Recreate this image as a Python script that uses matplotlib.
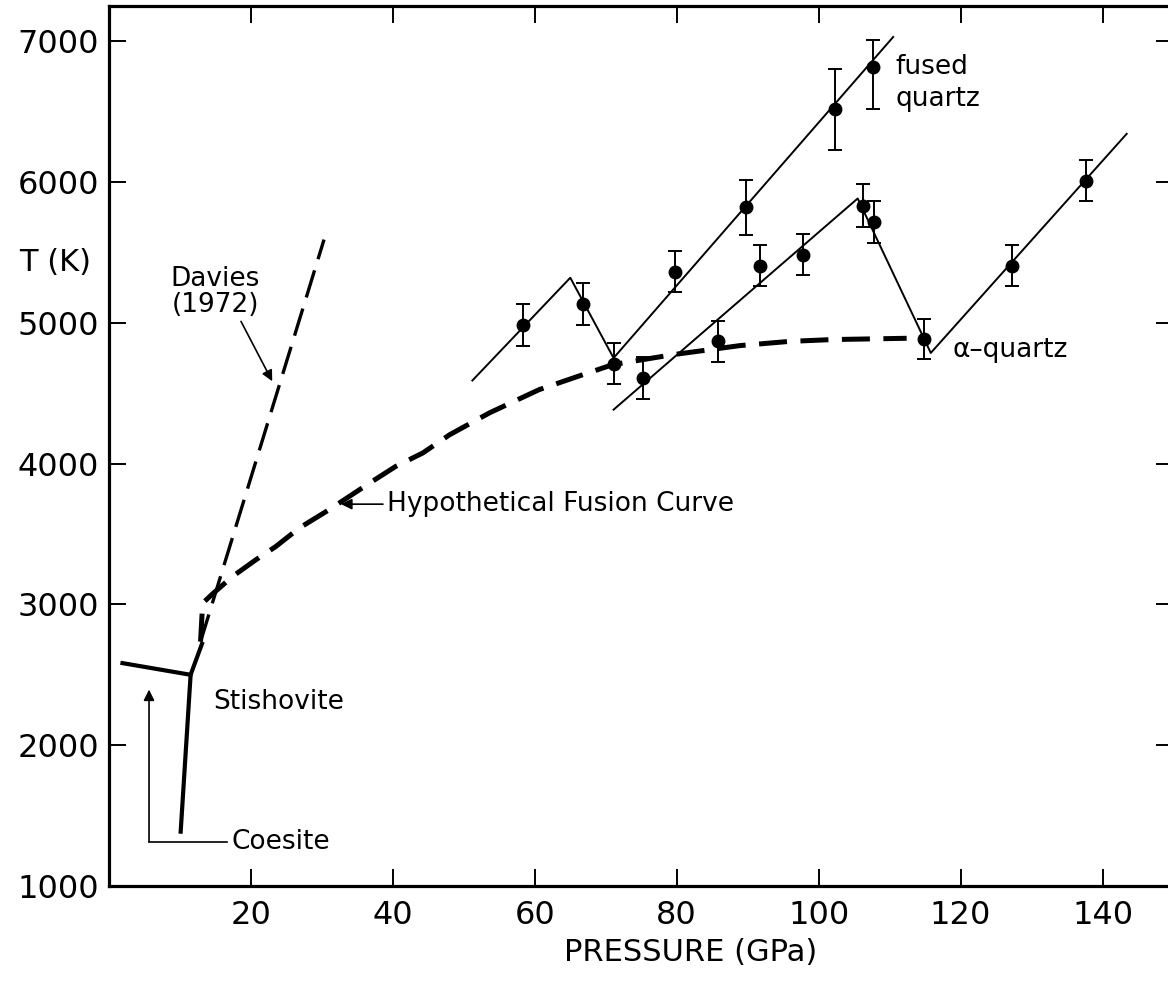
import numpy as np
import matplotlib
matplotlib.use("Agg")
import matplotlib.pyplot as plt

#######################################################
# data (pressure in GPa, T in K)
#######################################################

# shock temperature points, fused quartz
fused_P = [58.3, 66.8, 71.2, 79.7, 89.8, 102.3, 107.7]
fused_T = [4983, 5136, 4708, 5364, 5823, 6520, 6816]
fused_lo = [150, 150, 145, 145, 200, 290, 300]
fused_hi = [150, 150, 145, 145, 190, 280, 190]

# shock temperature points, alpha quartz
alpha_P = [75.2, 85.8, 91.8, 97.8, 106.3, 107.8, 114.8, 127.3, 137.6]
alpha_T = [4608, 4868, 5406, 5485, 5833, 5714, 4885, 5406, 6010]
alpha_lo = [148, 145, 148, 145, 150, 148, 145, 145, 145]
alpha_hi = [148, 145, 148, 145, 150, 148, 145, 145, 145]

# hand drawn fits through the points
fused_line_P = [51.2, 65.0, 71.1, 110.5]
fused_line_T = [4590, 5320, 4750, 7030]
alpha_line_P = [71.1, 105.5, 115.8, 143.4]
alpha_line_T = [4383, 5883, 4786, 6342]

# hypothetical fusion curve
fusion_P = [12.9, 13.2, 14.6, 17.4, 20.7, 23.5, 26.8, 31.0, 36.7, 40.4, 44.2,
            48.0, 53.6, 60.6, 66.8, 71.0, 79.5, 88.9, 95.9, 102.0, 112.4]
fusion_T = [2736, 3009, 3075, 3198, 3317, 3411, 3542, 3672, 3861, 3980, 4075,
            4205, 4360, 4525, 4632, 4703, 4774, 4838, 4868, 4881, 4890]

# Davies (1972) melting line
davies_P = [12.9, 30.3]
davies_T = [2736, 5591]

# coesite / stishovite phase boundaries
boundary_P = [1.9, 11.5, 13.1]
boundary_T = [2583, 2500, 2720]
coesite_P = [10.1, 11.5]
coesite_T = [1386, 2500]

x_ticks = [20, 40, 60, 80, 100, 120, 140]
y_ticks = [1000, 2000, 3000, 4000, 5000, 6000, 7000]

#######################################################
# figure
#######################################################

plt.rcParams['font.family'] = 'DejaVu Sans'

fig = plt.figure(figsize=(11.68, 9.89), dpi=100)
ax = fig.add_axes([109/1168, 103/989, 1064.5/1168, 880/989])

ax.set_xlim(0, 150)
ax.set_ylim(1000, 7250)

for s in ax.spines.values():
    s.set_linewidth(2.3)

ax.set_xticks(x_ticks)
ax.set_yticks(y_ticks)
ax.tick_params(direction='in', length=12, width=1.4, top=True, right=True,
               labelsize=23)
ax.tick_params(axis='x', pad=10)
ax.tick_params(axis='y', pad=7)

# fits
ax.plot(fused_line_P, fused_line_T, color='k', lw=1.4)
ax.plot(alpha_line_P, alpha_line_T, color='k', lw=1.4)

# data with error bars
for P, T, lo, hi in [(fused_P, fused_T, fused_lo, fused_hi),
                     (alpha_P, alpha_T, alpha_lo, alpha_hi)]:
    ax.errorbar(P, T, yerr=[lo, hi], fmt='o', color='k', ms=9,
                elinewidth=1.4, capsize=5, capthick=1.4)

# fusion curve and Davies line
ax.plot(fusion_P, fusion_T, color='k', lw=3.6, dashes=(5.6, 2.7))
ax.plot(davies_P, davies_T, color='k', lw=2.4, dashes=(8.5, 3.5))

# phase boundaries
ax.plot(boundary_P, boundary_T, color='k', lw=3.0, solid_joinstyle='miter')
ax.plot(coesite_P, coesite_T, color='k', lw=3.0)

#######################################################
# labels and annotations
#######################################################

ax.set_xlabel("PRESSURE (GPa)", fontsize=22)
ax.xaxis.set_label_coords(0.546, -0.076)
ax.xaxis.label.set_va('center')
ax.set_ylabel("T (K)", fontsize=22, rotation=0)
ax.yaxis.set_label_coords(-0.051, 0.709)
ax.yaxis.label.set_va('center')
ax.yaxis.label.set_ha('center')

fs = 19
ax.text(15.0, 5220, "Davies\n(1972)", fontsize=fs, ha='center', va='center',
        linespacing=1.0)
ax.annotate('', xy=(23.0, 4585), xytext=(18.6, 5010),
            arrowprops=dict(arrowstyle='-|>', color='k', lw=1.2,
                            mutation_scale=16, shrinkA=0, shrinkB=0))

ax.text(39.2, 3712, "Hypothetical Fusion Curve", fontsize=fs,
        ha='left', va='center')
ax.annotate('', xy=(32.7, 3712), xytext=(38.6, 3712),
            arrowprops=dict(arrowstyle='-|>', color='k', lw=1.2,
                            mutation_scale=16, shrinkA=0, shrinkB=0))

ax.text(14.7, 2310, "Stishovite", fontsize=fs, ha='left', va='center')

ax.text(17.2, 1315, "Coesite", fontsize=fs, ha='left', va='center')
ax.plot([5.64, 16.6], [1315, 1315], color='k', lw=1.2)
ax.annotate('', xy=(5.64, 2395), xytext=(5.64, 1315),
            arrowprops=dict(arrowstyle='-|>', color='k', lw=1.2,
                            mutation_scale=16, shrinkA=0, shrinkB=0))

ax.text(110.8, 6700, "fused\nquartz", fontsize=fs, ha='left', va='center',
        linespacing=1.3)
ax.text(118.8, 4805, "α–quartz", fontsize=fs, ha='left', va='center')

fig.savefig("out.png", dpi=100)
